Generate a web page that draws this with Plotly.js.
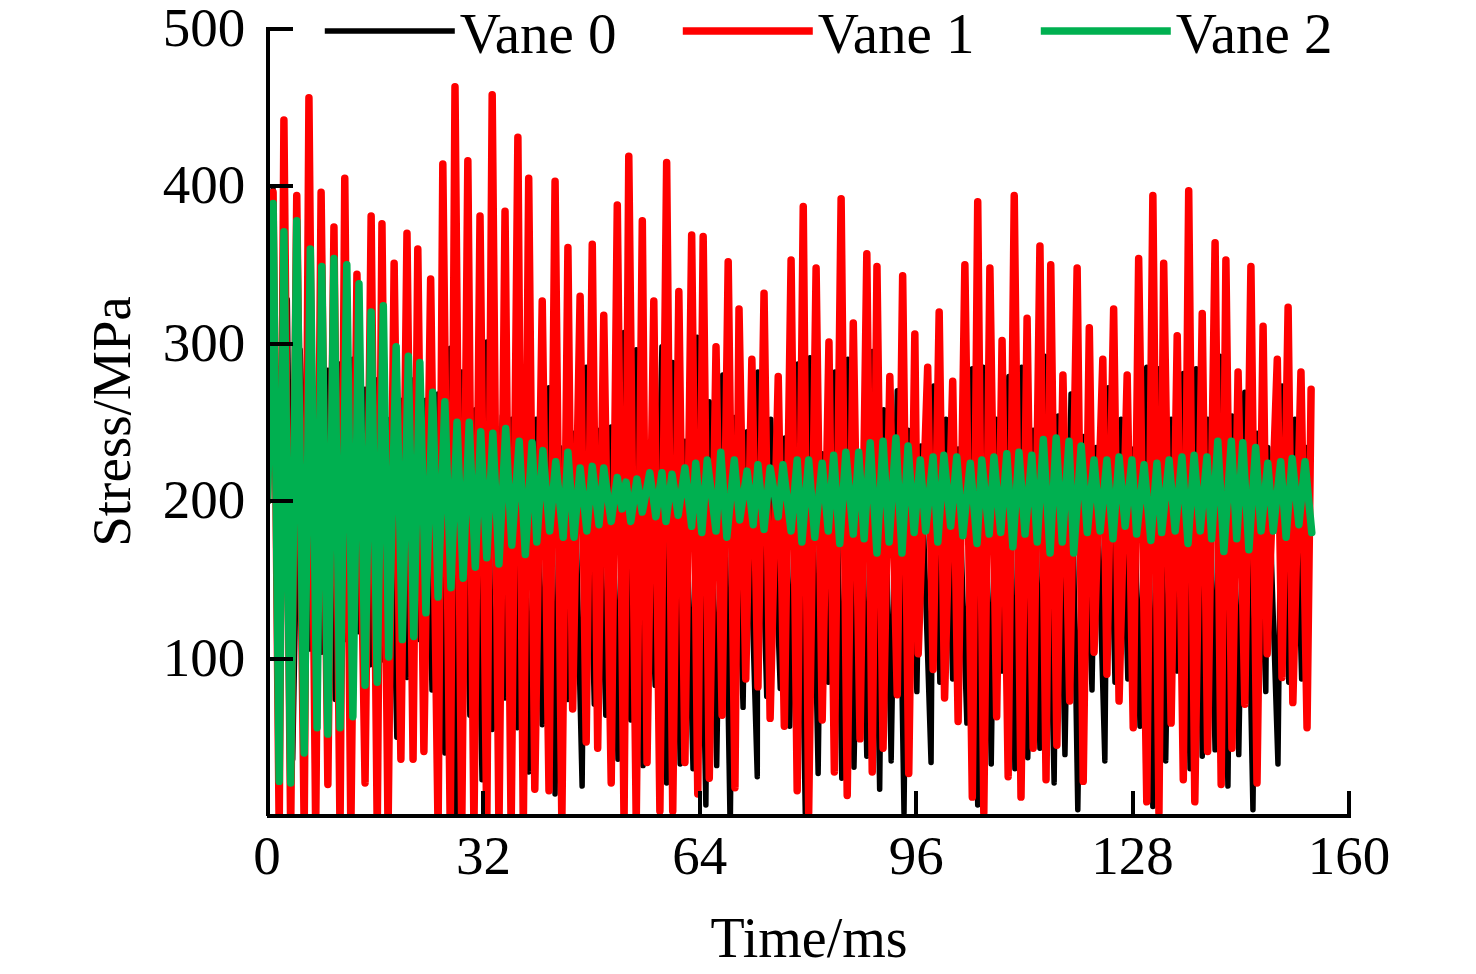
<!DOCTYPE html>
<html>
<head>
<meta charset="utf-8">
<script src="https://cdn.plot.ly/plotly-3.0.1.min.js"></script>
<style>
html, body { margin: 0; padding: 0; background: #fff; }
#chart { width: 1476px; height: 974px; }
</style>
</head>
<body>
<div id="chart"></div>
<script>
// values: upper and lower turning points of each vane (ms, MPa)
var vane1PeakT = [0.9,2.5,4.4,6.2,8.0,9.9,11.5,13.3,15.4,17.0,18.8,20.7,22.3,24.2,26.0,27.8,29.7,31.5,33.3,35.2,37.1,38.7,40.7,42.6,44.5,46.3,48.1,49.8,51.8,53.5,55.5,57.2,59.1,60.9,62.8,64.5,66.4,68.2,69.8,71.7,73.5,75.6,77.5,79.3,81.2,83.1,84.9,86.7,88.7,90.2,92.1,94.0,95.8,97.7,99.4,101.4,103.2,105.1,106.9,108.7,110.5,112.4,114.3,115.9,117.7,119.8,121.6,123.6,125.2,127.2,128.9,131.0,132.6,134.6,136.3,138.3,140.2,141.8,143.6,145.5,147.3,149.4,151.0,152.9,154.4];
var vane1PeakV = [396,442,394,456,396,374,405,344,381,376,351,370,360,341,414,463,416,381,458,384,431,405,327,403,361,330,363,318,388,419,378,327,415,333,369,368,298,352,322,290,332,279,353,387,348,301,392,313,357,349,279,343,306,285,320,276,350,390,348,302,394,316,362,350,280,348,310,290,322,280,354,394,351,305,397,319,364,353,282,349,311,290,323,282,271];
var vane1TroughT = [0.1,1.8,3.5,5.5,7.2,9.0,10.8,12.4,14.5,16.3,17.9,19.8,21.6,23.2,25.3,27.1,28.8,30.6,32.5,34.3,36.1,37.9,39.6,41.7,43.6,45.2,47.2,48.9,50.9,52.8,54.6,56.2,58.1,60.0,61.8,63.7,65.4,67.3,69.2,70.8,72.6,74.4,76.5,78.4,80.1,82.1,83.9,85.8,87.7,89.5,91.1,93.2,94.9,96.3,98.5,100.2,102.2,104.3,106.0,107.9,109.6,111.5,113.3,115.2,116.8,118.7,120.7,122.3,124.2,126.0,128.1,130.1,131.9,133.7,135.5,137.2,139.1,141.1,142.7,144.6,146.4,147.9,150.1,151.7,153.8];
var vane1TroughV = [200,-10,-10,-10,-10,20,-10,-10,21,-10,-10,36,36,41,-10,-10,-10,-10,-10,-10,-10,-10,17,16,-5,68,47,43,21,-5,-5,34,3,3,34,14,24,64,18,87,82,62,57,16,2,61,28,13,49,28,43,77,27,103,93,75,60,12,2,63,25,12,43,23,45,73,22,104,90,73,56,9,2,59,23,9,41,20,43,71,21,103,88,72,56];

var vane2PeakT = [0.9,2.5,4.4,6.4,8.1,9.9,11.8,13.6,15.4,17.2,19.1,20.9,22.6,24.5,26.3,28.1,29.9,31.6,33.4,35.3,37.3,39.2,40.8,42.7,44.5,46.3,48.1,49.8,51.8,53.1,54.7,56.6,58.4,59.9,61.8,63.4,65.1,67.1,69.1,71.0,72.6,74.4,76.3,78.4,80.1,82.1,83.8,85.6,87.5,89.2,91.1,93.0,94.8,96.6,98.5,100.1,102.0,104.0,105.7,107.5,109.4,111.2,113.1,114.8,116.7,118.6,120.4,122.3,124.2,126.0,127.9,129.7,131.6,133.4,135.3,137.1,139.0,140.6,142.6,144.3,146.2,148.0,149.9,151.6,153.5];
var vane2PeakV = [389,371,378,360,349,354,350,338,320,324,298,292,288,269,263,250,250,244,243,246,238,237,232,225,231,221,222,221,215,212,214,218,218,217,221,224,226,231,226,219,223,221,223,226,226,224,229,231,231,237,238,240,235,226,228,229,228,224,226,228,230,231,229,239,240,238,235,226,226,228,226,223,224,226,228,229,228,238,238,237,234,224,225,227,225];
var vane2TroughT = [0.1,1.8,3.5,5.5,7.4,9.0,10.8,12.7,14.5,16.3,18.0,20.0,21.7,23.5,25.3,27.2,29.0,30.8,32.5,34.3,36.2,38.2,39.9,41.8,43.8,45.4,47.3,49.1,50.9,52.5,53.8,55.5,57.5,59.0,60.8,62.8,64.3,66.4,68.0,69.9,71.9,73.5,75.6,77.5,79.1,81.0,83.0,84.7,86.7,88.3,90.2,92.0,93.9,95.7,97.4,99.2,101.1,102.9,105.0,106.8,108.5,110.3,112.1,113.9,115.8,117.6,119.3,121.3,123.2,125.1,126.9,128.6,130.7,132.3,134.3,136.2,138.0,139.7,141.5,143.4,145.2,147.0,148.8,150.7,152.6,154.5];
var vane2TroughV = [200,22,21,40,56,52,56,63,83,85,101,112,114,129,139,145,151,158,164,160,172,166,174,181,177,177,181,185,187,195,187,193,190,187,191,184,180,181,177,188,185,182,190,181,174,177,181,173,179,176,167,174,167,180,181,174,184,178,173,179,180,171,179,174,167,174,167,180,181,176,184,179,175,180,181,173,181,176,168,176,169,181,181,177,185,180];

var vane0PeakT = [0.9,3.0,4.9,7.2,9.0,10.8,12.7,14.5,16.3,18.2,20.0,21.7,23.5,25.3,27.1,28.8,30.8,32.5,34.8,36.2,37.9,39.8,41.7,43.3,45.4,47.2,48.9,50.9,52.8,54.6,56.3,58.4,60.0,61.8,63.6,65.4,67.4,69.1,71.0,72.6,74.5,76.6,78.5,80.3,82.1,84.0,85.9,87.7,89.5,91.2,93.2,94.8,96.7,98.6,100.4,102.2,104.3,105.9,107.8,109.7,111.6,113.3,115.0,117.0,118.9,120.7,122.6,124.4,126.3,128.1,130.1,131.9,133.7,135.5,137.4,139.1,140.9,142.7,144.6,146.4,148.0,150.1,152.0,153.8];
var vane0PeakV = [398,328,296,271,283,287,290,271,277,252,264,277,264,268,297,282,258,301,254,252,285,252,272,234,243,285,245,247,307,296,229,298,288,238,304,263,280,253,244,282,252,240,287,291,230,282,290,231,295,258,270,245,235,273,252,233,284,285,252,279,285,245,292,254,268,241,234,272,252,233,285,284,252,281,284,252,292,254,269,243,234,273,252,234];
var vane0TroughT = [0.1,1.6,3.8,6.4,8.1,10.1,11.7,13.5,15.2,17.3,19.2,20.7,22.6,24.4,26.3,28.1,30.0,31.8,33.3,35.2,37.0,38.7,40.7,42.6,44.5,46.6,48.4,50.1,51.9,53.8,55.6,57.4,59.1,61.1,63.0,64.9,66.5,68.5,70.4,72.5,73.9,75.9,77.3,79.6,81.5,83.0,85.0,86.8,88.7,90.6,92.3,94.2,96.1,98.2,99.5,101.4,103.5,105.1,107.1,108.7,110.6,112.5,114.3,116.4,118.0,119.9,122.0,123.9,125.4,127.3,129.1,131.0,132.9,134.6,136.5,138.3,140.2,142.1,143.7,145.8,147.7,149.5,151.1,153.0];
var vane0TroughV = [200,112,36,106,104,74,112,117,96,99,50,88,112,80,40,-10,64,23,55,75,56,28,58,14,74,19,71,64,36,61,32,83,21,33,30,7,32,-10,69,25,76,81,57,2,27,85,24,31,38,17,35,2,79,34,85,87,59,7,33,92,30,37,43,21,39,4,80,35,85,87,57,6,35,92,30,38,42,19,39,4,79,33,85,87];

var xTicks = [0, 32, 64, 96, 128, 160];
var yTicks = [100, 200, 300, 400, 500];

// merge turning points in time order
function zigzag(peakT, peakV, troughT, troughV) {
    var pts = [];
    var i;
    for (i = 0; i < peakT.length; i++) pts.push([peakT[i], peakV[i]]);
    for (i = 0; i < troughT.length; i++) pts.push([troughT[i], troughV[i]]);
    pts.sort(function(a, b) { return a[0] - b[0]; });
    return { x: pts.map(function(p) { return p[0]; }), y: pts.map(function(p) { return p[1]; }) };
}

function makeTrace(name, color, width, line) {
    return {
        x: line.x,
        y: line.y,
        name: name,
        type: 'scatter',
        mode: 'lines',
        line: { color: color, width: width }
    };
}

var family = '"Liberation Serif", serif';
var tickFont = { family: family, size: 55, color: '#000' };
var titleFont = { family: family, size: 56, color: '#000' };
var legendFont = { family: family, size: 57, color: '#000' };

var data = [
    makeTrace('Vane 0', '#000000', 5.5, zigzag(vane0PeakT, vane0PeakV, vane0TroughT, vane0TroughV)),
    makeTrace('Vane 1', '#ff0000', 7.5, zigzag(vane1PeakT, vane1PeakV, vane1TroughT, vane1TroughV)),
    makeTrace('Vane 2', '#00b050', 7.5, zigzag(vane2PeakT, vane2PeakV, vane2TroughT, vane2TroughV))
];

var layout = {
    width: 1476,
    height: 974,
    margin: { l: 267, r: 125, t: 27, b: 157.5, pad: 0, autoexpand: false },
    paper_bgcolor: '#fff',
    plot_bgcolor: '#fff',
    font: tickFont,
    showlegend: true,
    legend: {
        orientation: 'h',
        x: 0.0487,
        xanchor: 'left',
        y: 1.05,
        yanchor: 'top',
        itemwidth: 130,
        entrywidth: 213,
        entrywidthmode: 'pixels',
        font: legendFont,
        bgcolor: 'rgba(0,0,0,0)',
        itemclick: false,
        itemdoubleclick: false
    },
    xaxis: {
        range: [0, 160.3],
        anchor: 'free',
        position: 0,
        tickmode: 'array',
        tickvals: xTicks,
        ticktext: xTicks.map(String),
        ticks: 'inside',
        ticklen: 23,
        tickwidth: 3.5,
        tickcolor: '#000',
        showline: true,
        linecolor: '#000',
        linewidth: 3.5,
        showgrid: false,
        zeroline: false,
        ticklabelstandoff: -10,
        tickfont: tickFont,
        title: { text: 'Time/ms', font: titleFont, standoff: 32 }
    },
    yaxis: {
        range: [0, 501],
        anchor: 'free',
        position: 0.001,
        tickmode: 'array',
        tickvals: yTicks,
        ticktext: yTicks.map(String),
        ticks: 'inside',
        ticklen: 23,
        tickwidth: 3.5,
        tickcolor: '#000',
        showline: true,
        linecolor: '#000',
        linewidth: 3.5,
        showgrid: false,
        zeroline: false,
        ticklabelstandoff: 10,
        ticklabelshift: -2,
        ticklabeloverflow: 'allow',
        tickfont: tickFont,
        title: { text: 'Stress/MPa', font: { family: family, size: 55, color: '#000' }, standoff: 14 }
    }
};

Plotly.newPlot('chart', data, layout, { displayModeBar: false, responsive: false }).then(function(gd) {
    // rounded tips like the original bars
    gd.querySelectorAll('.scatterlayer path.js-line').forEach(function(p) {
        p.style.strokeLinejoin = 'round';
        p.style.strokeLinecap = 'round';
    });
});
</script>
</body>
</html>
